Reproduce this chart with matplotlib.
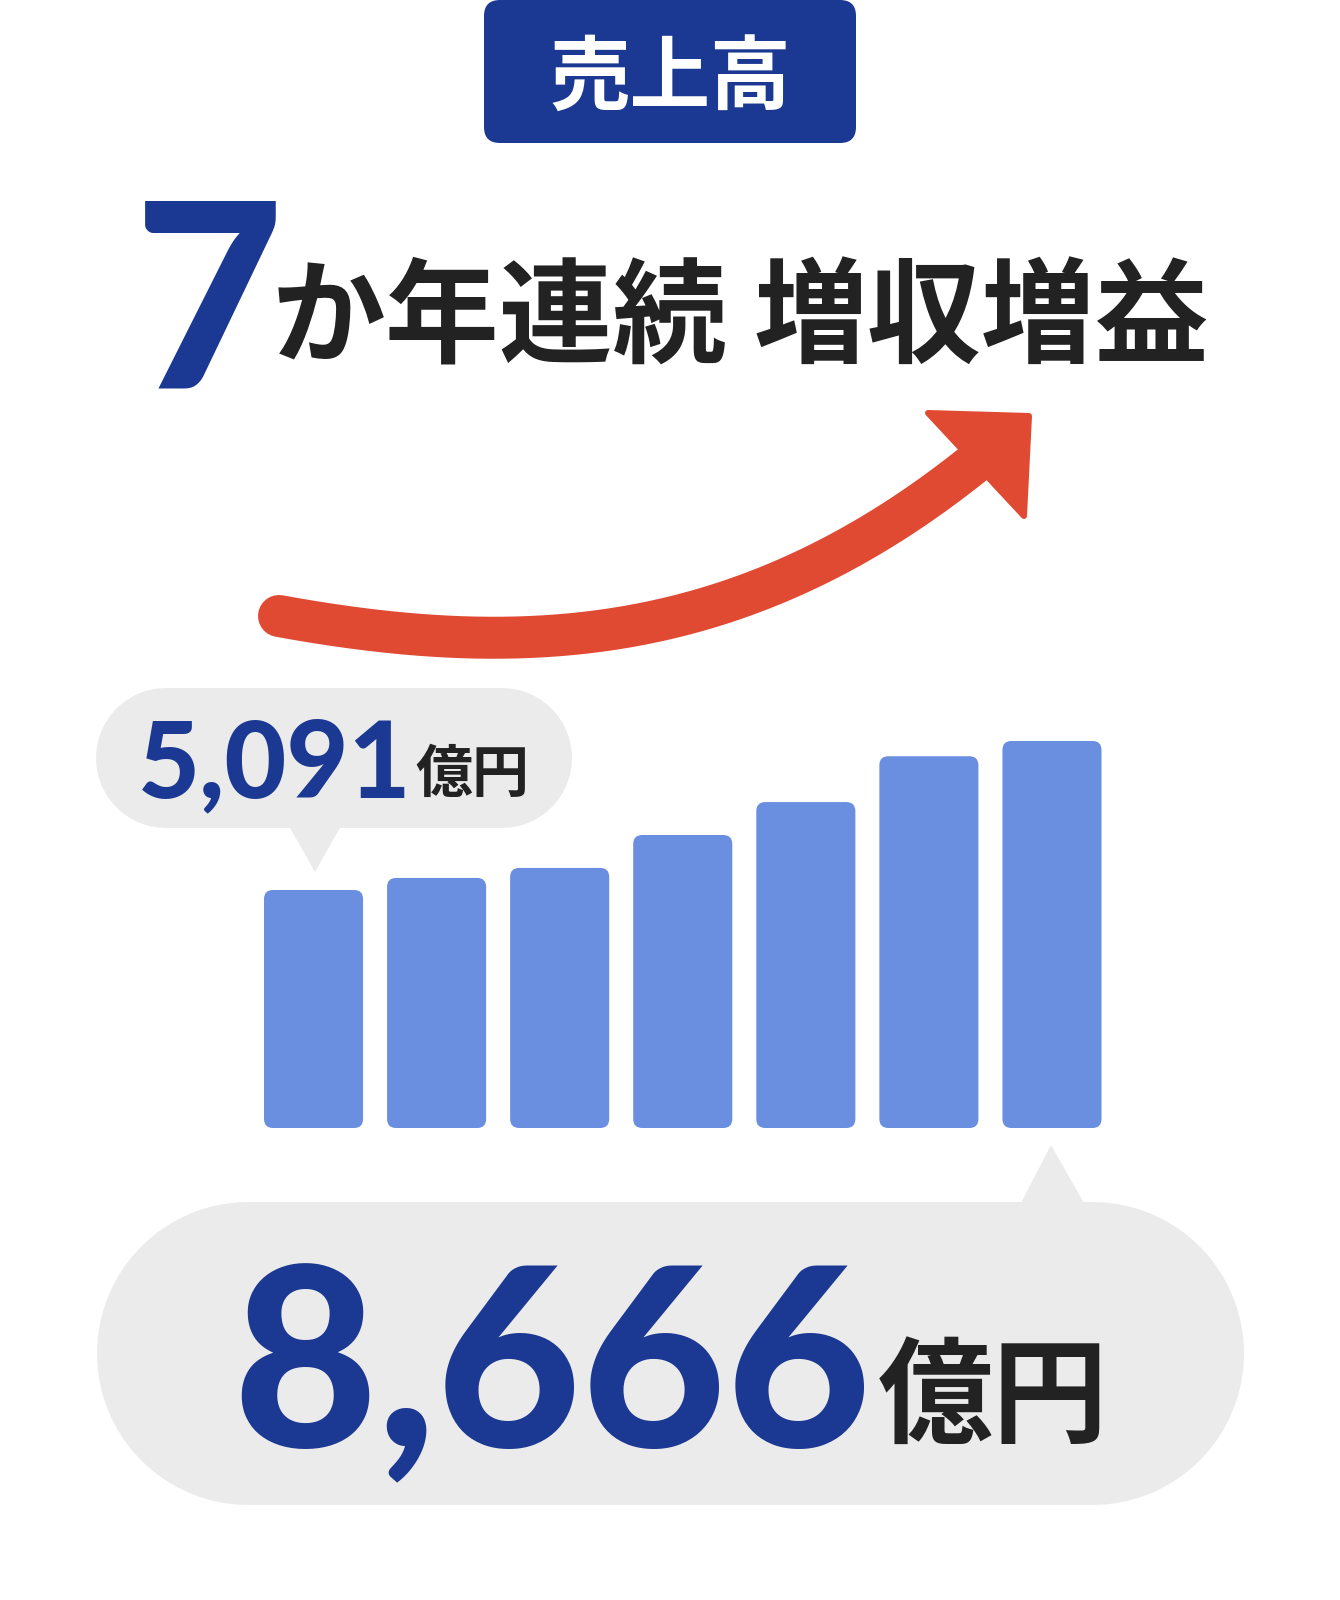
import matplotlib
matplotlib.use("Agg")
import matplotlib.pyplot as plt
import numpy as np
from matplotlib.patches import FancyBboxPatch, Polygon

# seven fiscal years of net sales (億円); only first and last are printed
sales = [5091, 5380, 5620, 6410, 7200, 8300, 8666]
bar_base = -620          # value axis starts below zero in the original artwork
unit = "億円"
badge = "売上高"
streak = "7"
headline_a = "か年連続"
headline_b = "増収増益"

NAVY = "#1B3892"
BAR = "#6A8FE0"
RED = "#E14A32"
GRAY = "#EBEBEB"
INK = "#222222"
JP = ["Noto Sans CJK JP", "DejaVu Sans"]
NUM = ["Lato", "DejaVu Sans"]
PT = 0.72   # points per pixel at dpi 100

fig = plt.figure(figsize=(13.4, 16), dpi=100)
fig.patch.set_facecolor("white")

# pixel-space overlay for the decoration
bg = fig.add_axes([0, 0, 1, 1])
bg.set_xlim(0, 1340)
bg.set_ylim(1600, 0)
bg.axis("off")

# badge
bg.add_patch(FancyBboxPatch((484, 0), 372, 143, boxstyle="round,pad=0,rounding_size=16",
                            fc=NAVY, ec="none"))
bg.text(670, 79, badge, family=JP, weight="bold", fontsize=58, color="white",
        ha="center", va="center")

# headline
bg.text(134, 387, streak, family=NUM, weight="black", fontsize=186, color=NAVY,
        ha="left", va="baseline")
bg.text(272, 354, headline_a, family=JP, weight="bold", fontsize=82, color=INK,
        ha="left", va="baseline")
bg.text(753, 354, headline_b, family=JP, weight="bold", fontsize=82, color=INK,
        ha="left", va="baseline")

# rising arrow (cubic bezier + head)
t = np.linspace(0, 1, 200)[:, None]
P = np.array([[279, 616], [520, 660], [740, 650], [972, 465]], dtype=float)
curve = ((1 - t) ** 3 * P[0] + 3 * (1 - t) ** 2 * t * P[1]
         + 3 * (1 - t) * t ** 2 * P[2] + t ** 3 * P[3])
bg.plot(curve[:, 0], curve[:, 1], color=RED, lw=42 * PT, solid_capstyle="round")
bg.add_patch(Polygon([[928, 413], [1029, 416], [1024, 516]], closed=True,
                     fc=RED, ec=RED, lw=6 * PT, joinstyle="round"))


def pill(x0, x1, y0, y1):
    r = (y1 - y0) / 2
    bg.plot([x0 + r, x1 - r], [y0 + r, y0 + r], color=GRAY, lw=(y1 - y0) * PT,
            solid_capstyle="round", zorder=1)


# speech bubbles
pill(96, 572, 688, 828)
bg.add_patch(Polygon([[289, 826], [341, 826], [315, 872]], fc=GRAY, ec="none", zorder=1))
pill(96, 1243, 1201, 1504)
bg.add_patch(Polygon([[1021, 1203], [1084, 1203], [1051, 1145]], fc=GRAY, ec="none", zorder=1))


def value_label(cx, num_base, unit_base, value, num_size, unit_size, gap):
    t1 = bg.text(0, num_base, f"{value:,}", family=NUM, weight="black",
                 fontsize=num_size, color=NAVY, va="baseline", zorder=3)
    t2 = bg.text(0, unit_base, unit, family=JP, weight="bold",
                 fontsize=unit_size, color=INK, va="baseline", zorder=3)
    fig.canvas.draw()
    r = fig.canvas.get_renderer()
    w1 = t1.get_window_extent(r).width
    w2 = t2.get_window_extent(r).width
    x0 = cx - (w1 + gap + w2) / 2
    t1.set_x(x0)
    t2.set_x(x0 + w1 + gap)


# bars
ax = fig.add_axes([252 / 1340, (1600 - 1128) / 1600, 861.5 / 1340, 428 / 1600])
ax.set_xlim(-0.5, 6.5)
a = 149 / (sales[-1] - sales[0])      # px per unit
ax.set_ylim(bar_base, bar_base + 428 / a)
ax.axis("off")
x = np.arange(len(sales))
bars = ax.bar(x, np.array(sales) - bar_base, bottom=bar_base, width=0.805, color=BAR)
xu_per_px = 7 / 861.5
yu_per_px = (428 / a) / 428
for b in bars:
    b.set_visible(False)
    ax.add_patch(FancyBboxPatch((b.get_x(), b.get_y()), b.get_width(), b.get_height(),
                                boxstyle=f"round,pad=0,rounding_size={9 * xu_per_px}",
                                mutation_aspect=yu_per_px / xu_per_px,
                                fc=BAR, ec="none"))

value_label(334, 797, 792, sales[0], 77, 41, 4)
value_label(670, 1447, 1434, sales[-1], 180, 83, 6)

fig.savefig("out.png", dpi=100, facecolor="white")
